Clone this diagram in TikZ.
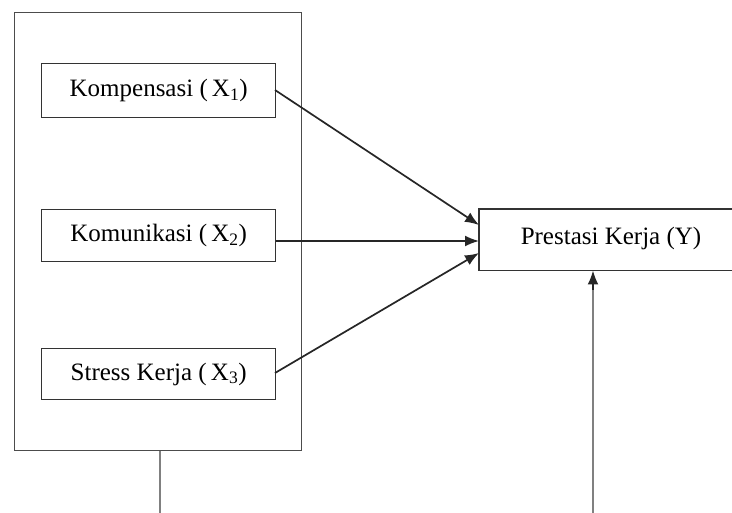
\documentclass[tikz,border=0pt]{standalone}
\usepackage{fontspec}
\setmainfont{Liberation Serif}
\usetikzlibrary{arrows.meta}
\begin{document}
\begin{tikzpicture}[x=1pt,y=-1pt,
  varbox/.style={draw=black!80, line width=1.3pt, minimum width=234pt, minimum height=54pt, inner sep=0pt, font=\fontsize{25}{29}\selectfont},
  outerbox/.style={draw=black!70, line width=1.3pt},
  arr/.style={draw=black!85, line width=1.7pt, -{Latex[length=14pt,width=11pt]}},
  feed/.style={draw=black!50, line width=2.4pt}]
\useasboundingbox (0,0) rectangle (732,513);
\clip (0,0) rectangle (732,513);
\node[outerbox, minimum width=287pt, minimum height=438pt, inner sep=0pt, anchor=north west] (outer) at (14,12) {};
\node[varbox, anchor=north west] (x1) at (41,63) {Kompensasi (\,X\textsubscript{1})};
\node[varbox, anchor=north west, minimum height=52pt] (x2) at (41,209) {Komunikasi (\,X\textsubscript{2})};
\node[varbox, anchor=north west, minimum height=51pt] (x3) at (41,348) {Stress Kerja (\,X\textsubscript{3})};
\node[anchor=north west, minimum width=320pt, minimum height=61pt, inner sep=0pt] (y) at (479,209) {};
\draw[draw=black!80, line width=1.3pt] (y.north east) -- (y.north west) -- (y.south west) -- (y.south east);
\node[font=\fontsize{25}{29}\selectfont] (ylab) at (611,238) {Prestasi Kerja (Y)};
\coordinate (a1) at (275,90);
\coordinate (a3) at (275,373);
\coordinate (t1) at (479,225);
\coordinate (t2) at (479,241);
\coordinate (t3) at (479,253);
\draw[arr] (a1) -- (t1);
\draw[arr] (x2.east |- t2) -- (t2);
\draw[arr] (a3) -- (t3);
\coordinate (b1) at (160,513);
\draw[feed] (outer.south -| b1) -- (b1);
\coordinate (b2) at (593,513);
\draw[feed] (b2) -- (593,285);
\draw[arr] (593,290) -- (593,270.5);
\end{tikzpicture}
\end{document}
